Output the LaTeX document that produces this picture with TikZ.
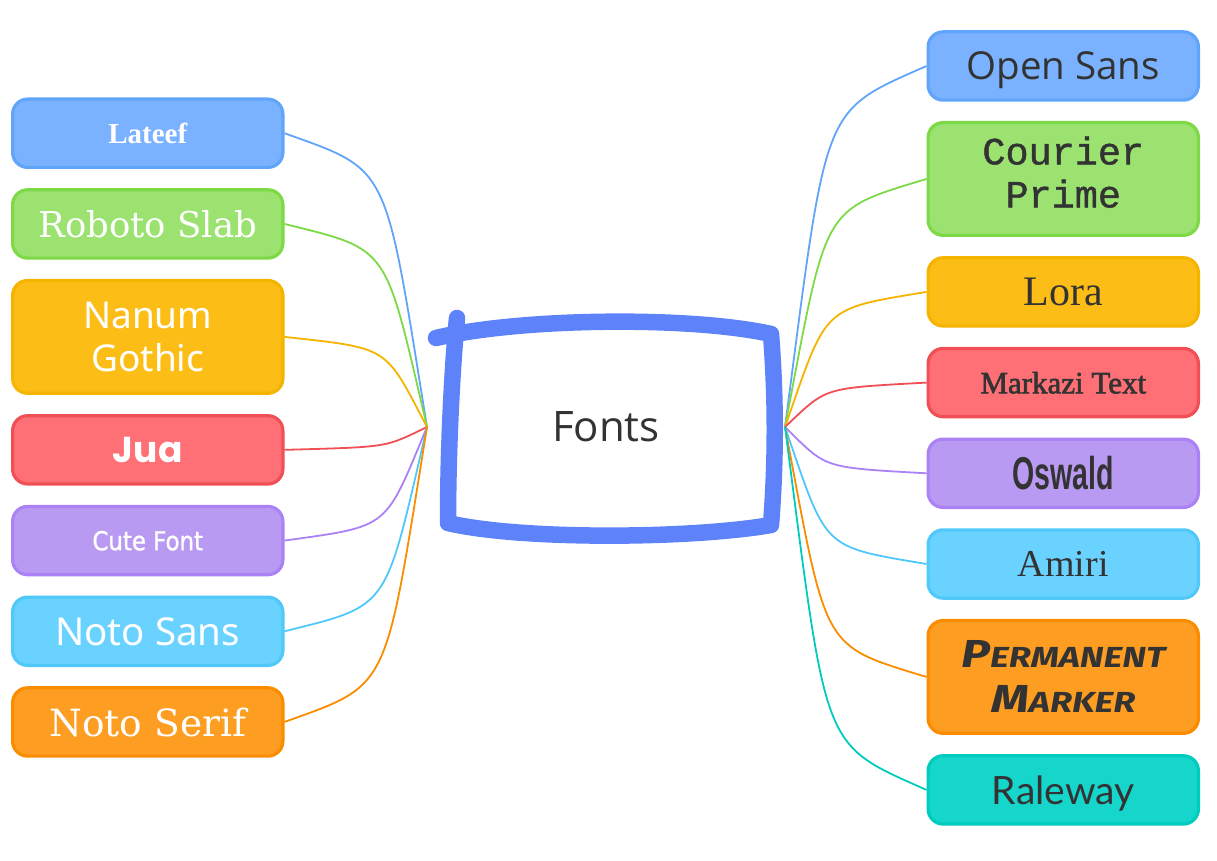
\documentclass[tikz,border=0pt]{standalone}
\usepackage{xcolor}
\usepackage{fontspec}
\usepackage{tikz}
\usetikzlibrary{positioning,calc}

\setmainfont{Open Sans}
\newfontfamily\lateeffont{Liberation Serif}
\newfontfamily\slabfont{DejaVu Serif}
\newfontfamily\nanumfont{Noto Sans}
\newfontfamily\juafont{Poppins}
\newfontfamily\cutefont[FakeStretch=0.88,FakeBold=1.2]{DejaVu Sans}
\newfontfamily\notosansfont{Noto Sans}
\newfontfamily\notoseriffont{DejaVu Serif}
\newfontfamily\courierfont[FakeBold=1.2]{Liberation Mono}
\newfontfamily\bookfont{Liberation Serif}
\newfontfamily\markazifont[FakeBold=2]{Liberation Serif}
\newfontfamily\oswaldfont[FakeStretch=0.62]{Liberation Sans}
\newfontfamily\markerfont[FakeStretch=1.25]{Fira Sans}
\newfontfamily\ralewayfont{Lato}

\definecolor{bluefill}{RGB}{122,178,255}
\definecolor{blueline}{RGB}{96,165,250}
\definecolor{greenfill}{RGB}{155,226,112}
\definecolor{greenline}{RGB}{125,217,70}
\definecolor{amberfill}{RGB}{252,190,22}
\definecolor{amberline}{RGB}{245,180,0}
\definecolor{redfill}{RGB}{255,112,118}
\definecolor{redline}{RGB}{240,80,85}
\definecolor{purplefill}{RGB}{185,154,242}
\definecolor{purpleline}{RGB}{170,130,245}
\definecolor{skyfill}{RGB}{106,210,255}
\definecolor{skyline}{RGB}{80,200,250}
\definecolor{orangefill}{RGB}{253,158,34}
\definecolor{orangeline}{RGB}{251,140,0}
\definecolor{tealfill}{RGB}{22,214,204}
\definecolor{tealline}{RGB}{0,204,190}
\definecolor{rootblue}{RGB}{94,130,250}
\definecolor{inkgray}{RGB}{51,51,51}

\begin{document}
\begin{tikzpicture}[
    x=1pt, y=-1pt,
    node distance=19.2pt,
    leaf/.style={rectangle, rounded corners=15pt, draw, line width=3.2pt, minimum width=270.3pt, minimum height=68.3pt, inner sep=0pt, align=center, text depth=0pt},
    tall/.style={minimum height=112.8pt},
    leftleaf/.style={leaf, text=white},
    rightleaf/.style={leaf, text=inkgray},
    link/.style={line width=1.8pt}
]
\useasboundingbox (0,0) rectangle (1217,861);

\node[minimum width=358pt, minimum height=200pt, inner sep=0pt, outer sep=0pt, text depth=0pt, text=inkgray, font=\fontsize{42}{50}\selectfont] (fonts) at (606,427) {Fonts};

% left branch
\node[leftleaf, fill=bluefill, draw=blueline, font=\lateeffont\bfseries\fontsize{29}{34}\selectfont] (lateef) at (147.75,133.25) {Lateef};
\node[leftleaf, below=of lateef, fill=greenfill, draw=greenline, font=\slabfont\fontsize{35.5}{42}\selectfont] (roboto) {Roboto Slab};
\node[leftleaf, tall, below=of roboto, fill=amberfill, draw=amberline, font=\nanumfont\fontsize{37}{43}\selectfont] (nanum) {Nanum\\Gothic};
\node[leftleaf, below=of nanum, fill=redfill, draw=redline, font=\juafont\bfseries\fontsize{36}{42}\selectfont] (jua) {Jua};
\node[leftleaf, below=of jua, fill=purplefill, draw=purpleline, font=\cutefont\fontsize{26}{30}\selectfont] (cute) {Cute Font};
\node[leftleaf, below=of cute, fill=skyfill, draw=skyline, font=\notosansfont\fontsize{38.5}{44}\selectfont] (notosans) {Noto Sans};
\node[leftleaf, below=of notosans, fill=orangefill, draw=orangeline, font=\notoseriffont\fontsize{37.5}{44}\selectfont] (notoserif) {Noto Serif};

% right branch
\node[rightleaf, fill=bluefill, draw=blueline, font=\fontsize{38.5}{44}\selectfont] (opensans) at (1063.25,66) {Open Sans};
\node[rightleaf, tall, below=of opensans, fill=greenfill, draw=greenline, text depth=14pt, font=\courierfont\fontsize{38.5}{43}\selectfont] (courier) {Courier\\Prime};
\node[rightleaf, below=of courier, fill=amberfill, draw=amberline, font=\bookfont\fontsize{42}{48}\selectfont] (lora) {Lora};
\node[rightleaf, below=of lora, fill=redfill, draw=redline, font=\markazifont\fontsize{31}{36}\selectfont] (markazi) {Markazi Text};
\node[rightleaf, below=of markazi, fill=purplefill, draw=purpleline, font=\oswaldfont\bfseries\fontsize{46}{52}\selectfont] (oswald) {Oswald};
\node[rightleaf, below=of oswald, fill=skyfill, draw=skyline, font=\bookfont\fontsize{38}{44}\selectfont] (amiri) {Amiri};
\node[rightleaf, tall, below=of amiri, fill=orangefill, draw=orangeline, font=\markerfont\bfseries\itshape\fontsize{29}{45}\selectfont] (marker) {{\fontsize{39}{45}\selectfont P}ERMANENT\\{\fontsize{39}{45}\selectfont M}ARKER};
\node[rightleaf, below=of marker, fill=tealfill, draw=tealline, font=\ralewayfont\fontsize{39}{45}\selectfont] (raleway) {Raleway};

% connectors
\foreach \leaf/\ink in {lateef/blueline, roboto/greenline, nanum/amberline, jua/redline, cute/purpleline, notosans/skyline, notoserif/orangeline}
  \draw[link, \ink] let \p1=(\leaf.east), \p2=(fonts.west) in
    (\p1) .. controls ({\x1+0.75*(\x2-\x1)},{\y1+0.13*(\y2-\y1)}) and ({\x2-0.3*(\x2-\x1)},{\y2-0.9*(\y2-\y1)}) .. (\p2);
\foreach \leaf/\ink in {opensans/blueline, courier/greenline, lora/amberline, markazi/redline, oswald/purpleline, amiri/skyline, marker/orangeline, raleway/tealline}
  \draw[link, \ink] let \p1=(\leaf.west), \p2=(fonts.east) in
    (\p1) .. controls ({\x1+0.75*(\x2-\x1)},{\y1+0.13*(\y2-\y1)}) and ({\x2-0.3*(\x2-\x1)},{\y2-0.9*(\y2-\y1)}) .. (\p2);

% sketchy frame round the root
\draw[rootblue, line width=16.5pt, line cap=round, line join=round]
  (436,338) .. controls (520,318) and (690,316) .. (771,334)
  .. controls (776,400) and (776,460) .. (771,525)
  .. controls (690,539) and (520,540) .. (448,523)
  .. controls (448,450) and (452,370) .. (457,318);

\end{tikzpicture}
\end{document}
